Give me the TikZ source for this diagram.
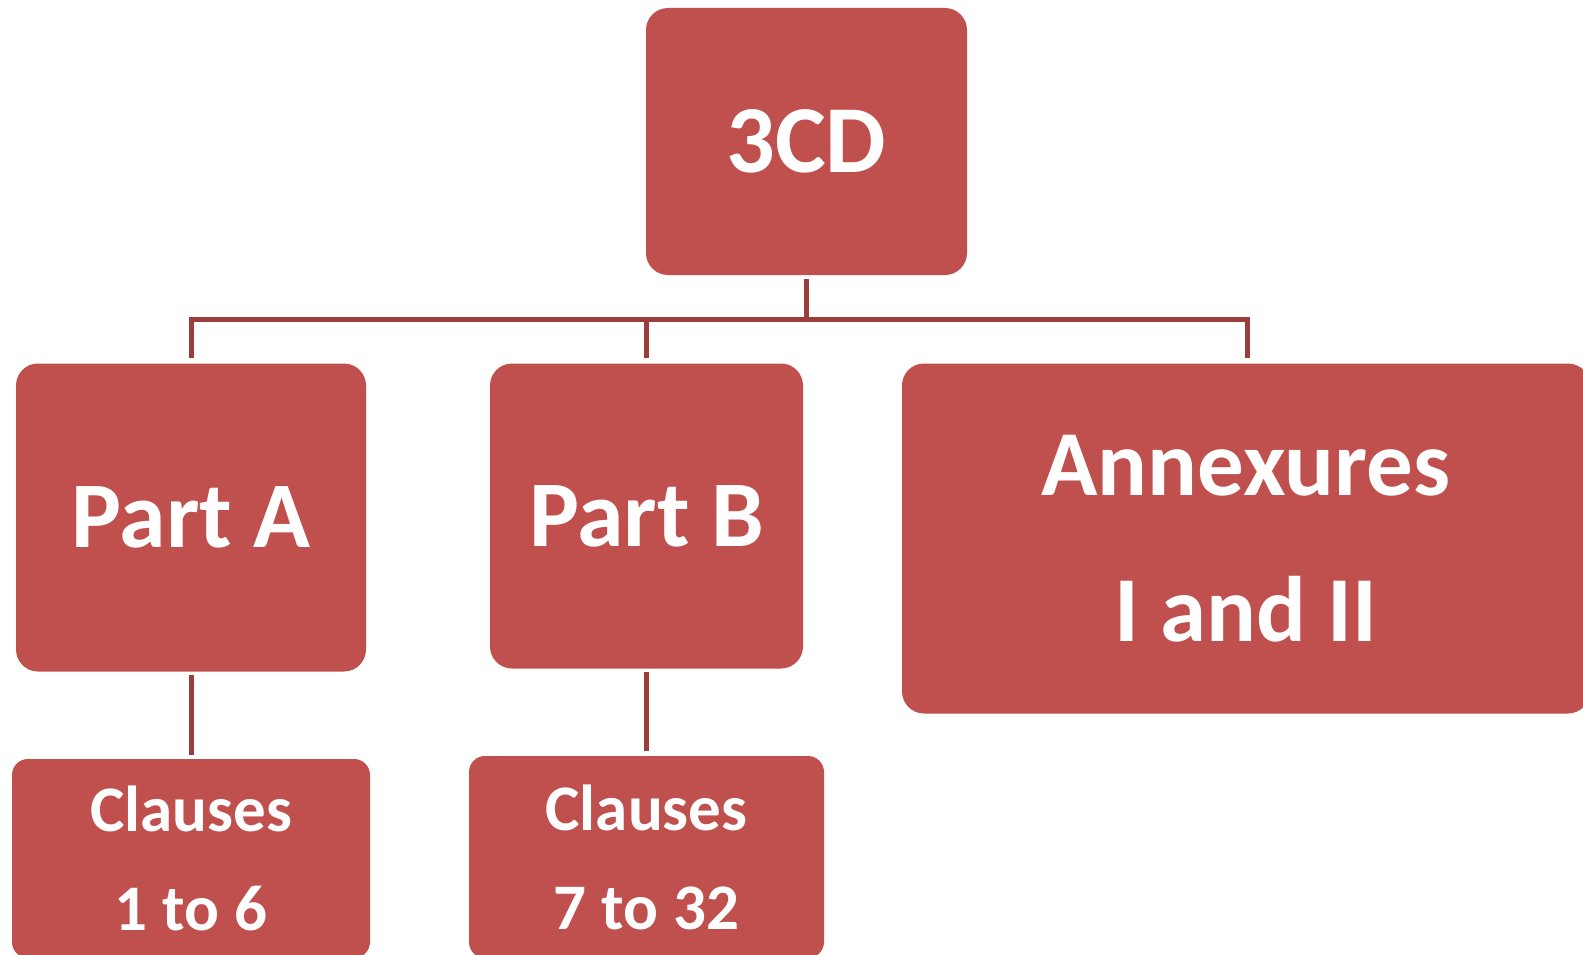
\documentclass[tikz,border=0pt]{standalone}
\usepackage{fontspec}
\setmainfont{Carlito}
\definecolor{boxred}{HTML}{C0504D}
\definecolor{linered}{HTML}{9B3D3B}
\begin{document}
\begin{tikzpicture}[x=1pt,y=-1pt,
  box/.style={rectangle, rounded corners=22pt, fill=boxred, draw=none, text=white,
    inner sep=0pt, align=center, font=\bfseries},
  conn/.style={draw=linered, line width=5pt, line cap=butt, line join=miter}]
\useasboundingbox (0,0) rectangle (1583,955);
\node[box, minimum width=321pt, minimum height=267pt, font=\bfseries\fontsize{96}{115}\selectfont] (top) at (806.5,141.5) {3CD};
\node[box, minimum width=350pt, minimum height=308pt, font=\bfseries\fontsize{94}{114}\selectfont] (pa) at (191,517.5) {Part A};
\node[box, minimum width=313pt, minimum height=305pt, font=\bfseries\fontsize{94}{114}\selectfont] (pb) at (646.5,516) {Part B};
\node[box, minimum width=688pt, minimum height=350pt, font=\bfseries\fontsize{93}{146}\selectfont] (an) at (1246,538.5) {Annexures\\I and II};
\node[box, rounded corners=16pt, minimum width=358pt, minimum height=199pt, font=\bfseries\fontsize{65}{99}\selectfont] (ca) at (191,858.5) {Clauses\\1 to 6};
\node[box, rounded corners=16pt, minimum width=355pt, minimum height=202pt, font=\bfseries\fontsize{65}{99}\selectfont] (cb) at (646.5,857) {Clauses\\7 to 32};
\coordinate (bus) at (0,319);
\draw[conn] ([yshift=-4pt]top.south) -- (top.south |- bus);
\draw[conn] ([yshift=5pt]pa.north) -- (pa.north |- bus) -- ([xshift=1pt]an.north |- bus) -- ([xshift=1pt,yshift=5pt]an.north);
\draw[conn] (pb.north |- bus) -- ([yshift=5pt]pb.north);
\draw[conn] ([yshift=-3pt]pa.south) -- ([yshift=4pt]ca.north);
\draw[conn] ([yshift=-3pt]pb.south) -- ([yshift=5pt]cb.north);
\end{tikzpicture}
\end{document}
